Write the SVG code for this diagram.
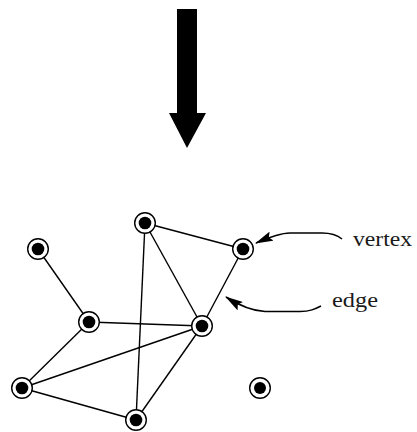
<svg xmlns="http://www.w3.org/2000/svg" width="417" height="432" viewBox="0 0 417 432">
  <style>
    .edge { stroke: #000; stroke-width: 1.4; fill: none; }
    .ring { fill: #fff; stroke: #000; stroke-width: 1.4; }
    .dot { fill: #000; }
    .pointer { stroke: #000; stroke-width: 1.5; fill: none; marker-end: url(#head); }
    .label { font-family: "Liberation Serif", "Times New Roman", serif; font-size: 20px; fill: #1a1a1a; }
  </style>
  <defs>
    <marker id="head" viewBox="0 0 18 10" markerWidth="18" markerHeight="10" refX="17" refY="5" orient="auto" markerUnits="userSpaceOnUse">
      <path d="M0,0 L18,5 L0,10 L3,5 Z" fill="#000"/>
    </marker>
  </defs>

  <rect width="417" height="432" fill="#fff"/>

  <!-- big downward arrow -->
  <polygon points="177,9 197,9 197,113 206,113 187,148 169,113 177,113" fill="#000"/>

  <!-- graph edges -->
  <g id="connectors">
    <line class="edge" x1="38" y1="249" x2="89" y2="322"/>
    <line class="edge" x1="145" y1="223" x2="243" y2="249"/>
    <line class="edge" x1="145" y1="223" x2="202" y2="326"/>
    <line class="edge" x1="145" y1="223" x2="136" y2="420"/>
    <line class="edge" x1="89" y1="322" x2="202" y2="326"/>
    <line class="edge" x1="89" y1="322" x2="22" y2="388"/>
    <line class="edge" x1="202" y1="326" x2="243" y2="249"/>
    <line class="edge" x1="202" y1="326" x2="22" y2="388"/>
    <line class="edge" x1="202" y1="326" x2="136" y2="420"/>
    <line class="edge" x1="22" y1="388" x2="136" y2="420"/>
  </g>

  <!-- vertices -->
  <g id="vA"><circle class="ring" cx="145" cy="223" r="10.3"/><circle class="dot" cx="145" cy="223" r="6.3"/></g>
  <g id="vB"><circle class="ring" cx="38" cy="249" r="10.3"/><circle class="dot" cx="38" cy="249" r="6.3"/></g>
  <g id="vC"><circle class="ring" cx="89" cy="322" r="10.3"/><circle class="dot" cx="89" cy="322" r="6.3"/></g>
  <g id="vD"><circle class="ring" cx="202" cy="326" r="10.3"/><circle class="dot" cx="202" cy="326" r="6.3"/></g>
  <g id="vE"><circle class="ring" cx="22" cy="388" r="10.3"/><circle class="dot" cx="22" cy="388" r="6.3"/></g>
  <g id="vF"><circle class="ring" cx="136" cy="420" r="10.3"/><circle class="dot" cx="136" cy="420" r="6.3"/></g>
  <g id="vG"><circle class="ring" cx="243" cy="249" r="10.3"/><circle class="dot" cx="243" cy="249" r="6.3"/></g>
  <g id="vH"><circle class="ring" cx="260" cy="388" r="10.3"/><circle class="dot" cx="260" cy="388" r="6"/></g>

  <!-- annotation pointers -->
  <g id="pointers">
    <path class="pointer" d="M342,239 C336,234 330,233 322,233 L290,233 C282,233 272,236 256,243"/>
    <path class="pointer" d="M321,306 C315,309 310,311.5 300,311.5 L265,311.5 C255,311 240,306 226,297"/>
  </g>

  <g id="labels">
    <text class="label" x="353" y="246" textLength="59" lengthAdjust="spacingAndGlyphs">vertex</text>
    <text class="label" x="332" y="307" textLength="46" lengthAdjust="spacingAndGlyphs">edge</text>
  </g>
</svg>
